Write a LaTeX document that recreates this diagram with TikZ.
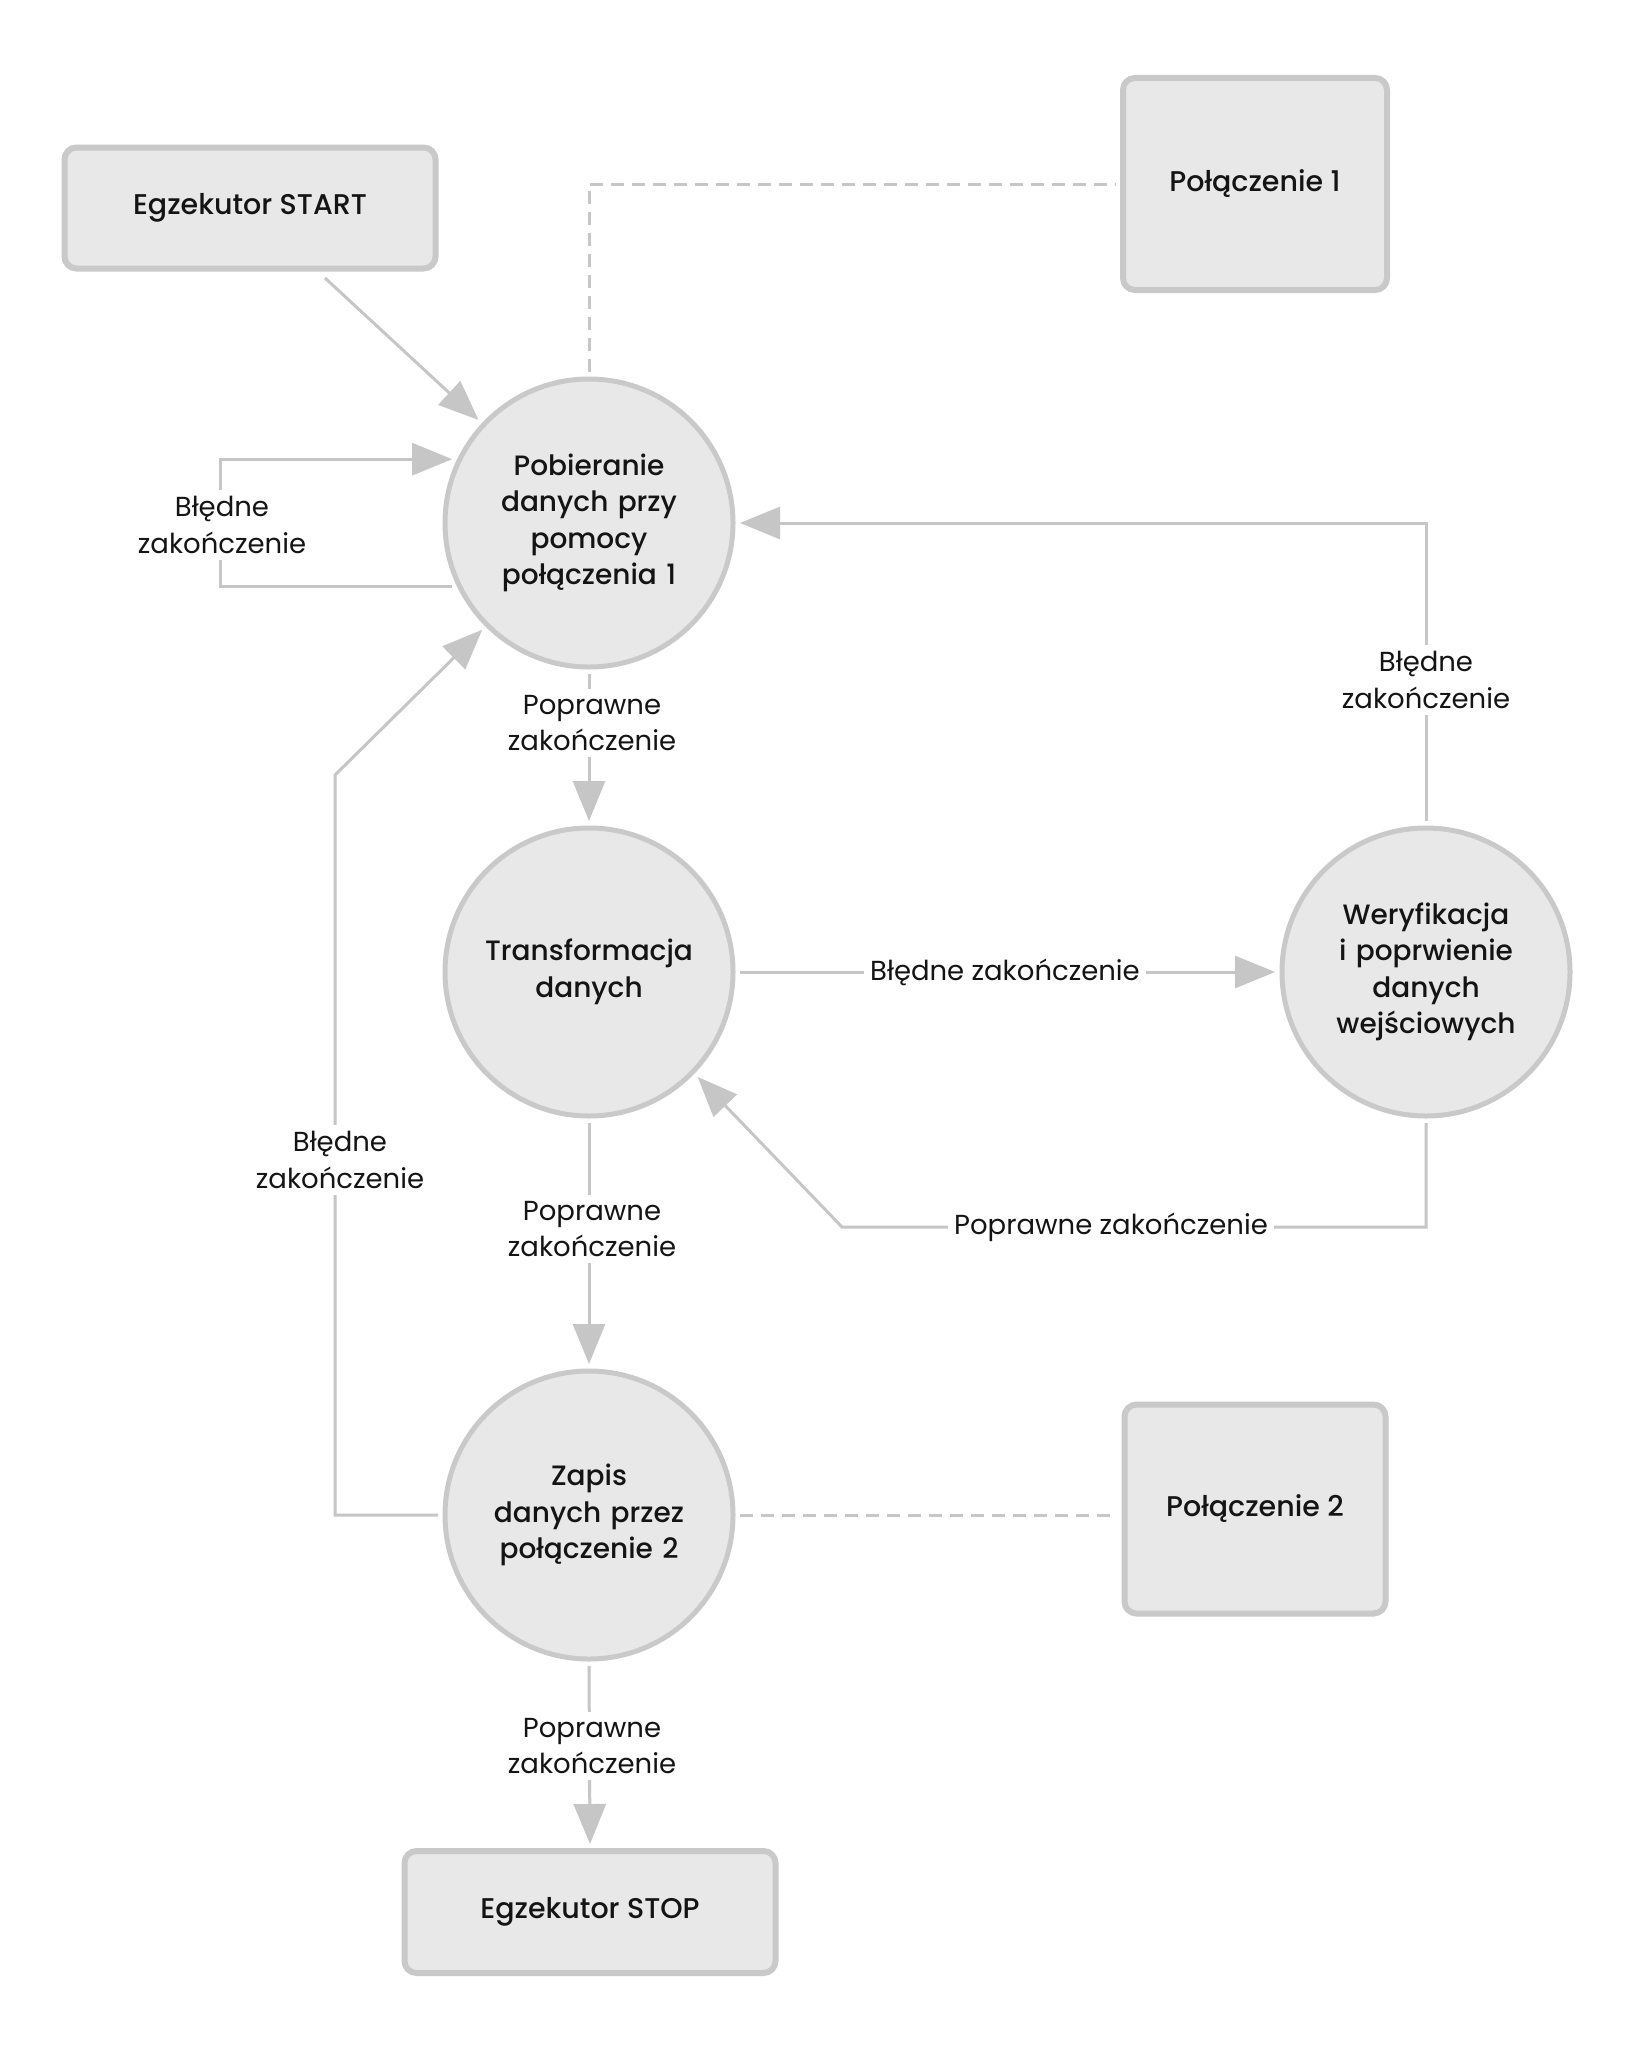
\documentclass[tikz,border=0pt]{standalone}
\usepackage{fontspec}
\setmainfont{Poppins}[BoldFont={Poppins Medium}]
\usetikzlibrary{arrows.meta}
\definecolor{nodefill}{HTML}{E8E8E8}
\definecolor{nodeborder}{HTML}{C9C9C9}
\definecolor{linegray}{HTML}{C6C6C6}
\definecolor{txt}{HTML}{141414}
\tikzset{
  boxnode/.style={draw=nodeborder, line width=6pt, fill=nodefill, rounded corners=12pt,
    minimum width=#1, align=center, font=\bfseries\fontsize{28.5}{36.5}\selectfont,
    text=txt, outer sep=7pt, inner sep=0pt},
  circnode/.style={circle, draw=nodeborder, line width=5pt, fill=nodefill,
    minimum size=288pt, inner sep=0pt, align=center, text width=250pt,
    font=\bfseries\fontsize{28}{36.5}\selectfont, text=txt, outer sep=7pt},
  conn/.style={draw=linegray, line width=3pt},
  arr/.style={conn, -{Triangle[length=40pt,width=32pt]}},
  dashline/.style={conn, dash pattern=on 13pt off 8pt},
  lbl/.style={fill=white, align=center, inner sep=6pt,
    font=\fontsize{27.5}{36.5}\selectfont, text=txt}
}
\begin{document}
\begin{tikzpicture}[x=1pt, y=-1pt]
\fill[white] (0,0) rectangle (1626,2047);
\useasboundingbox (0,0) rectangle (1626,2047);

% nodes
\node[boxnode=371pt, minimum height=121pt] (start) at (250,208) {Egzekutor START};
\node[boxnode=264pt, minimum height=212pt] (p1) at (1255,184) {Połączenie 1};
\node[circnode] (c1) at (589,523) {Pobieranie\\danych przy\\pomocy\\połączenia 1};
\node[circnode] (c2) at (589,972) {Transformacja\\danych};
\node[circnode] (c3) at (1426,972) {Weryfikacja\\i poprwienie\\danych\\wejściowych};
\node[circnode] (c4) at (589,1515) {Zapis\\danych przez\\połączenie 2};
\node[boxnode=261pt, minimum height=209pt] (p2) at (1255,1509) {Połączenie 2};
\node[boxnode=371pt, minimum height=122pt] (stop) at (590,1912) {Egzekutor STOP};

% connectors
\coordinate (sA) at (325,278);
\draw[arr] (sA) -- (c1.137);
\draw[dashline] (c1.north) |- (p1.west);
\draw[arr] (c1.205) -- ++(-232,0) |- (c1.155);
\draw[arr] (c1.south) -- (c2.north);
\draw[arr] (c2.east) -- (c3.west);
\draw[arr] (c3.north) |- (c1.east);
\coordinate (bR) at (842,1227);
\draw[arr] (c3.south) |- (bR) -- (c2.-44);
\draw[arr] (c2.south) -- (c4.north);
\coordinate (lC) at (335,775);
\draw[arr] (c4.west) -| (lC) -- (c1.225);
\draw[dashline] (c4.east) -- (c4.east -| p2.west);
\draw[arr] (c4.south) -- (stop.north);

% labels
\node[lbl] (l1) at (222,525) {Błędne\\zakończenie};
\node[lbl] (l2) at (592,723) {Poprawne\\zakończenie};
\node[lbl] (l3) at (1005,972) {Błędne zakończenie};
\node[lbl] (l4) at (1426,680) {Błędne\\zakończenie};
\node[lbl] (l5) at (1111,1227) {Poprawne zakończenie};
\node[lbl] (l6) at (592,1229) {Poprawne\\zakończenie};
\node[lbl] (l7) at (340,1160) {Błędne\\zakończenie};
\node[lbl] (l8) at (592,1746) {Poprawne\\zakończenie};
\end{tikzpicture}
\end{document}
